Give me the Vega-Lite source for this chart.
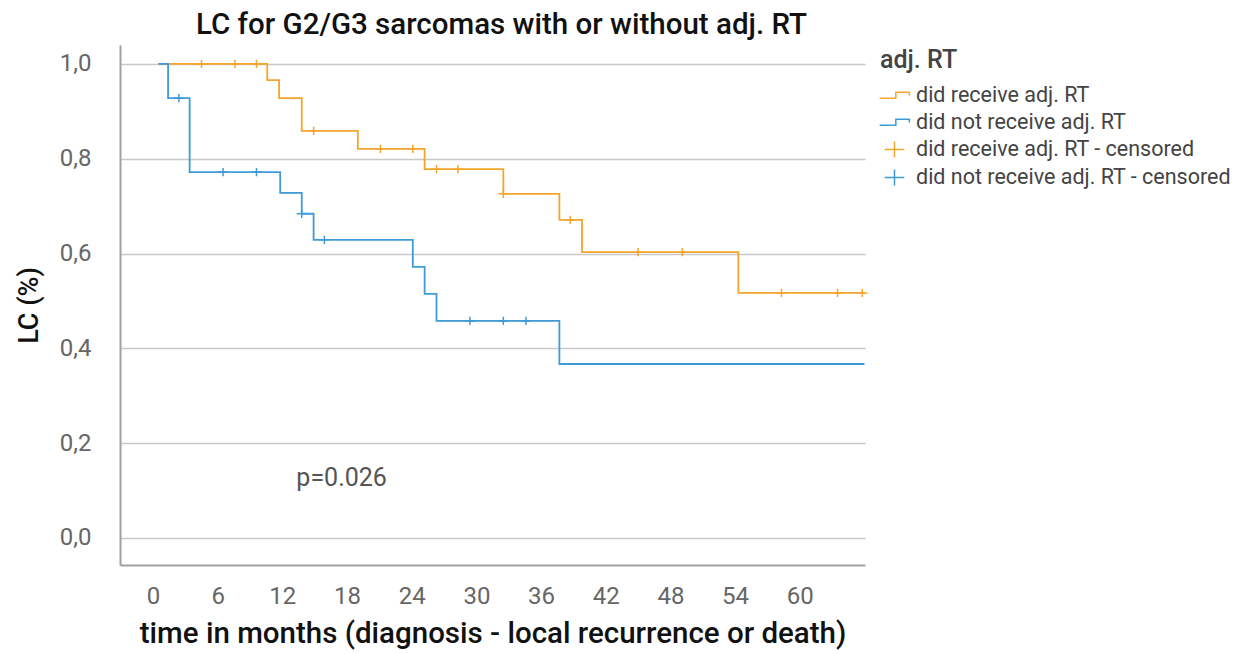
{
  "$schema": "https://vega.github.io/schema/vega-lite/v6.json",
  "width": 745,
  "height": 520,
  "autosize": "none",
  "padding": {"left": 120, "top": 45, "right": 376, "bottom": 89},
  "background": "white",
  "config": {"font": "Roboto", "view": {"stroke": null}},
  "title": {
    "text": "LC for G2/G3 sarcomas with or without adj. RT",
    "fontSize": 29.5,
    "fontWeight": 500,
    "color": "#111111",
    "anchor": "middle",
    "dx": 9,
    "offset": 5
  },
  "datasets": {
    "curves": [
      {"month": 0.5, "lc": 1.0, "series": "did receive adj. RT"},
      {"month": 10.6, "lc": 0.966, "series": "did receive adj. RT"},
      {"month": 11.7, "lc": 0.928, "series": "did receive adj. RT"},
      {"month": 13.8, "lc": 0.859, "series": "did receive adj. RT"},
      {"month": 19.0, "lc": 0.821, "series": "did receive adj. RT"},
      {"month": 25.2, "lc": 0.778, "series": "did receive adj. RT"},
      {"month": 32.5, "lc": 0.726, "series": "did receive adj. RT"},
      {"month": 37.7, "lc": 0.671, "series": "did receive adj. RT"},
      {"month": 39.8, "lc": 0.603, "series": "did receive adj. RT"},
      {"month": 54.3, "lc": 0.517, "series": "did receive adj. RT"},
      {"month": 66.0, "lc": 0.517, "series": "did receive adj. RT"},
      {"month": 0.5, "lc": 1.0, "series": "did not receive adj. RT"},
      {"month": 1.4, "lc": 0.928, "series": "did not receive adj. RT"},
      {"month": 3.4, "lc": 0.772, "series": "did not receive adj. RT"},
      {"month": 11.8, "lc": 0.728, "series": "did not receive adj. RT"},
      {"month": 13.8, "lc": 0.684, "series": "did not receive adj. RT"},
      {"month": 14.9, "lc": 0.629, "series": "did not receive adj. RT"},
      {"month": 24.1, "lc": 0.572, "series": "did not receive adj. RT"},
      {"month": 25.2, "lc": 0.515, "series": "did not receive adj. RT"},
      {"month": 26.3, "lc": 0.458, "series": "did not receive adj. RT"},
      {"month": 37.7, "lc": 0.367, "series": "did not receive adj. RT"},
      {"month": 66.0, "lc": 0.367, "series": "did not receive adj. RT"}
    ],
    "censored": [
      {"month": 4.5, "lc": 1.0, "series": "did receive adj. RT - censored"},
      {"month": 7.6, "lc": 1.0, "series": "did receive adj. RT - censored"},
      {"month": 9.6, "lc": 1.0, "series": "did receive adj. RT - censored"},
      {"month": 14.9, "lc": 0.859, "series": "did receive adj. RT - censored"},
      {"month": 21.1, "lc": 0.821, "series": "did receive adj. RT - censored"},
      {"month": 24.1, "lc": 0.821, "series": "did receive adj. RT - censored"},
      {"month": 26.3, "lc": 0.778, "series": "did receive adj. RT - censored"},
      {"month": 28.3, "lc": 0.778, "series": "did receive adj. RT - censored"},
      {"month": 32.5, "lc": 0.726, "series": "did receive adj. RT - censored"},
      {"month": 38.7, "lc": 0.671, "series": "did receive adj. RT - censored"},
      {"month": 45.0, "lc": 0.603, "series": "did receive adj. RT - censored"},
      {"month": 49.1, "lc": 0.603, "series": "did receive adj. RT - censored"},
      {"month": 58.3, "lc": 0.517, "series": "did receive adj. RT - censored"},
      {"month": 63.5, "lc": 0.517, "series": "did receive adj. RT - censored"},
      {"month": 65.8, "lc": 0.517, "series": "did receive adj. RT - censored"},
      {"month": 2.4, "lc": 0.928, "series": "did not receive adj. RT - censored"},
      {"month": 6.5, "lc": 0.772, "series": "did not receive adj. RT - censored"},
      {"month": 9.6, "lc": 0.772, "series": "did not receive adj. RT - censored"},
      {"month": 13.8, "lc": 0.684, "series": "did not receive adj. RT - censored"},
      {"month": 15.9, "lc": 0.629, "series": "did not receive adj. RT - censored"},
      {"month": 29.4, "lc": 0.458, "series": "did not receive adj. RT - censored"},
      {"month": 32.5, "lc": 0.458, "series": "did not receive adj. RT - censored"},
      {"month": 34.6, "lc": 0.458, "series": "did not receive adj. RT - censored"}
    ],
    "note": [
      {"month": 17.5, "lc": 0.126, "label": "p=0.026"}
    ]
  },
  "encoding": {
    "x": {
      "field": "month",
      "type": "quantitative",
      "scale": {"domain": [-3.06, 66.05], "nice": false, "zero": false},
      "axis": {
        "values": [0, 6, 12, 18, 24, 30, 36, 42, 48, 54, 60],
        "ticks": false,
        "grid": false,
        "labelFlush": false,
        "labelPadding": 19,
        "labelFontSize": 24,
        "labelColor": "#666666",
        "domainColor": "#a0a0a0",
        "domainWidth": 2,
        "title": "time in months (diagnosis - local recurrence or death)",
        "titleFontSize": 29.5,
        "titleFontWeight": 500,
        "titleColor": "#111111",
        "titlePadding": 11
      }
    },
    "y": {
      "field": "lc",
      "type": "quantitative",
      "scale": {"domain": [-0.057, 1.04], "nice": false, "zero": false},
      "axis": {
        "values": [0, 0.2, 0.4, 0.6, 0.8, 1],
        "labelExpr": "replace(format(datum.value, '.1f'), '.', ',')",
        "ticks": false,
        "labelPadding": 29,
        "labelFontSize": 24,
        "labelColor": "#666666",
        "labelFlush": false,
        "grid": true,
        "gridColor": "#c8c8c8",
        "gridWidth": 1.5,
        "domainColor": "#a0a0a0",
        "domainWidth": 2,
        "title": "LC (%)",
        "titleFontSize": 27,
        "titleFontWeight": 500,
        "titleColor": "#111111",
        "titlePadding": 16
      }
    }
  },
  "layer": [
    {
      "data": {"name": "curves"},
      "mark": {"type": "line", "interpolate": "step-after", "strokeWidth": 1.8},
      "encoding": {
        "color": {
          "field": "series",
          "type": "nominal",
          "scale": {
            "domain": ["did receive adj. RT", "did not receive adj. RT", "did receive adj. RT - censored", "did not receive adj. RT - censored"],
            "range": ["#f4a52c", "#3f9bd8", "#f4a52c", "#3f9bd8"]
          },
          "legend": {
            "orient": "none",
            "legendX": 760,
            "legendY": 3,
            "title": "adj. RT",
            "titleFontSize": 25,
            "titleFontWeight": 500,
            "titleColor": "#444444",
            "titlePadding": 8,
            "labelFontSize": 21.5,
            "labelColor": "#444444",
            "labelOffset": 7,
            "labelLimit": 400,
            "symbolSize": 729,
            "symbolStrokeWidth": 1.5,
            "rowPadding": 2,
            "padding": 0
          }
        }
      }
    },
    {
      "data": {"name": "censored"},
      "mark": {"type": "point", "filled": false, "strokeWidth": 1.5, "size": 190, "opacity": 1},
      "encoding": {
        "color": {"field": "series", "type": "nominal"},
        "shape": {
          "field": "series",
          "type": "nominal",
          "scale": {
            "domain": ["did receive adj. RT", "did not receive adj. RT", "did receive adj. RT - censored", "did not receive adj. RT - censored"],
            "range": ["M-1.1,0.2H0.1V-0.25H1.1V0", "M-1.1,0.2H0.1V-0.25H1.1V0", "M-0.73,0H0.73M0,-0.6V0.6", "M-0.73,0H0.73M0,-0.6V0.6"]
          },
          "legend": {
            "orient": "none",
            "legendX": 760,
            "legendY": 3,
            "title": "adj. RT",
            "titleFontSize": 25,
            "titleFontWeight": 500,
            "titleColor": "#444444",
            "titlePadding": 8,
            "labelFontSize": 21.5,
            "labelColor": "#444444",
            "labelOffset": 7,
            "labelLimit": 400,
            "symbolSize": 729,
            "symbolStrokeWidth": 1.5,
            "rowPadding": 2,
            "padding": 0
          }
        }
      }
    },
    {
      "data": {"name": "note"},
      "mark": {"type": "text", "fontSize": 25, "color": "#555555"},
      "encoding": {
        "text": {"field": "label", "type": "nominal"}
      }
    }
  ]
}
